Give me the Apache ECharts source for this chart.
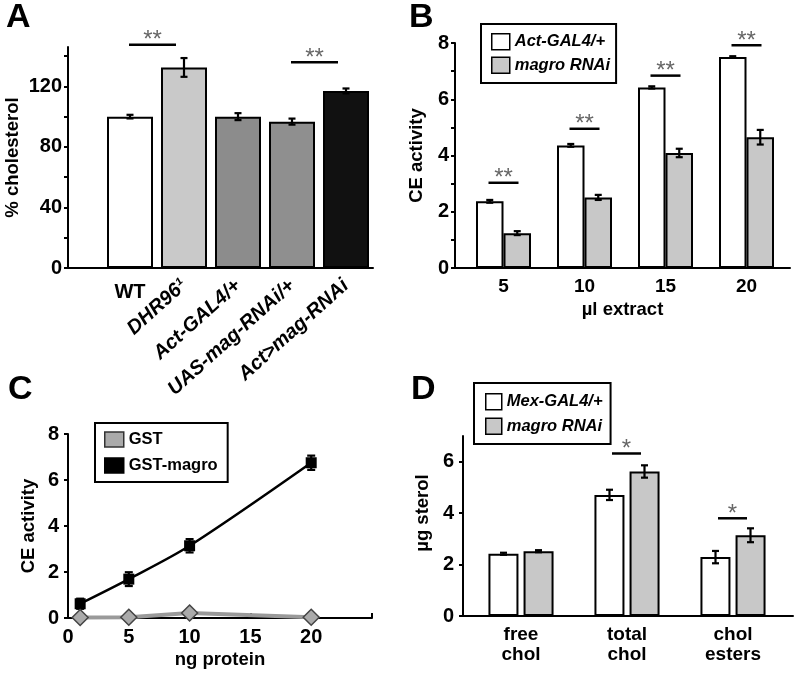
<!DOCTYPE html>
<html><head><meta charset="utf-8">
<script src="https://cdn.jsdelivr.net/npm/echarts@6/dist/echarts.min.js"></script>
<style>html,body{margin:0;padding:0;background:#fff}#chart{width:800px;height:675px}</style>
</head><body><div id="chart"></div>
<script>
// ---------- Panel A ----------
const aCategories = ['WT', 'DHR96¹', 'Act-GAL4/+', 'UAS-mag-RNAi/+', 'Act>mag-RNAi'];
const aValues = [100, 132.5, 100, 96.7, 117];
const aErrors = [1.2, 6.2, 2.3, 2, 1.6];
const aYLabels = [0, 40, 80, 120];
const aYTicks = [0, 20, 40, 60, 80, 100, 120, 140];
const aSigIndex = [0, 3];
const aSigY = [147.5, 136];
const aSigText = ['**', '**'];
// ---------- Panel B ----------
const bCategories = ['5', '10', '15', '20'];
const bControl = [2.37, 4.36, 6.42, 7.50];
const bControlErr = [0.05, 0.05, 0.04, 0.03];
const bRNAi = [1.24, 2.51, 4.09, 4.65];
const bRNAiErr = [0.07, 0.09, 0.15, 0.26];
const bYLabels = [0, 2, 4, 6, 8];
const bYTicks = [0, 1, 2, 3, 4, 5, 6, 7, 8];
const bSigIndex = [0, 1, 2, 3];
const bSigY = [3.03, 4.95, 6.84, 7.92];
const bSigText = ['**', '**', '**', '**'];
// ---------- Panel C ----------
const cX = [1, 5, 10, 20];
const cGSTmagro = [0.62, 1.69, 3.14, 6.75];
const cGSTmagroErr = [0.22, 0.3, 0.29, 0.31];
const cGST = [0.02, 0.03, 0.22, 0.03];
const cXLabels = [0, 5, 10, 15, 20];
const cYLabels = [0, 2, 4, 6, 8];
// ---------- Panel D ----------
const dCategories = ['free\nchol', 'total\nchol', 'chol\nesters'];
const dControl = [2.42, 4.71, 2.29];
const dControlErr = [0.04, 0.2, 0.24];
const dRNAi = [2.52, 5.62, 3.14];
const dRNAiErr = [0.04, 0.24, 0.27];
const dYLabels = [0, 2, 4, 6];
const dSigIndex = [1, 2];
const dSigY = [6.32, 3.8];
const dSigText = ['*', '*'];

// ---------- styles ----------
const FONT = '"Liberation Sans", Arial, Helvetica, sans-serif';
const aBarColors = ['#ffffff', '#c9c9c9', '#8c8c8c', '#8f8f8f', '#111111'];
const WHITE = '#ffffff', GRAY = '#c8c8c8';
const axisLine = { show: true, lineStyle: { color: '#000', width: 2 } };
const tickLab = { fontFamily: FONT, fontSize: 20, fontWeight: 'bold', color: '#000' };
const nameStyle = { fontFamily: FONT, fontSize: 18.5, fontWeight: 'bold', color: '#000' };
const letterStyle = { fontFamily: FONT, fontSize: 34, fontWeight: 'bold', color: '#000' };

function frameX(grid, name, gap) {
  return { type: 'value', gridIndex: grid, min: 0, max: 1, axisLine,
    axisTick: { show: false }, axisLabel: { show: false }, splitLine: { show: false },
    name: name || '', nameLocation: 'middle', nameGap: gap || 30, nameTextStyle: nameStyle };
}
function hiddenY(grid, max) {
  return { type: 'value', gridIndex: grid, min: 0, max, show: false, splitLine: { show: false } };
}
function errSeries(xi, yi, xs, vals, errs, dx, cap) {
  return {
    type: 'custom', xAxisIndex: xi, yAxisIndex: yi, silent: true, z: 10, clip: false,
    encode: { x: 0, y: 1 },
    data: vals.map((v, i) => [xs[i], v, errs[i]]),
    renderItem(params, api) {
      const x0 = api.value(0), v = api.value(1), e = api.value(2);
      const t = api.coord([x0, v + e]), b = api.coord([x0, v - e]);
      const x = t[0] + dx;
      const st = { stroke: '#000', lineWidth: 2.2 };
      return { type: 'group', children: [
        { type: 'line', shape: { x1: x, y1: t[1], x2: x, y2: b[1] }, style: st },
        { type: 'line', shape: { x1: x - cap, y1: t[1], x2: x + cap, y2: t[1] }, style: st },
        { type: 'line', shape: { x1: x - cap, y1: b[1], x2: x + cap, y2: b[1] }, style: st }
      ] };
    }
  };
}
function sigSeries(xi, yi, idx, ys, texts, dx1, dx2) {
  return {
    type: 'custom', xAxisIndex: xi, yAxisIndex: yi, silent: true, z: 10, clip: false,
    encode: { x: 0, y: 1 },
    data: idx.map((k, j) => [k, ys[j], j]),
    renderItem(params, api) {
      const p = api.coord([api.value(0), api.value(1)]);
      const j = api.value(2);
      const x1 = p[0] + dx1, x2 = p[0] + dx2, y = p[1];
      return { type: 'group', children: [
        { type: 'line', shape: { x1, y1: y, x2, y2: y }, style: { stroke: '#000', lineWidth: 2.5 } },
        { type: 'text', style: { text: texts[j], x: (x1 + x2) / 2, y: y - 4, align: 'center',
          verticalAlign: 'middle', fill: '#666', font: '24px ' + FONT } }
      ] };
    }
  };
}
const legendText = { fontFamily: FONT, fontSize: 16.5, fontWeight: 'bold', fontStyle: 'italic', color: '#000' };

const option = {
  animation: false,
  backgroundColor: '#fff',
  title: [
    { text: 'A', left: 6, top: 1, padding: 0, textStyle: letterStyle },
    { text: 'B', left: 409, top: 1, padding: 0, textStyle: letterStyle },
    { text: 'C', left: 8, top: 373, padding: 0, textStyle: letterStyle },
    { text: 'D', left: 411, top: 373, padding: 0, textStyle: letterStyle }
  ],
  grid: [
    { left: 68, top: 47, width: 305, height: 221 },   // 0 A frame
    { left: 103, top: 47, width: 270, height: 221 },  // 1 A bars
    { left: 103, top: 47, width: 270, height: 221 },  // 2 A WT label
    { left: 455, top: 43, width: 335, height: 225 },  // 3 B frame
    { left: 463, top: 43, width: 324, height: 225 },  // 4 B bars
    { left: 68, top: 434, width: 304, height: 184 },  // 5 C
    { left: 463, top: 436, width: 330, height: 180 }, // 6 D frame
    { left: 468, top: 436, width: 318, height: 180 }  // 7 D bars
  ],
  legend: [
    { left: 481, top: 24, orient: 'vertical', selectedMode: false, icon: 'rect',
      data: ['Act-GAL4/+', 'magro RNAi'], borderColor: '#000', borderWidth: 2,
      padding: [9, 6, 9, 10], itemWidth: 18, itemHeight: 16, itemGap: 6, textStyle: legendText,
      itemStyle: { borderColor: '#000', borderWidth: 1.5 } },
    { left: 95, top: 423, orient: 'vertical', selectedMode: false, icon: 'rect',
      data: [{ name: 'GST', itemStyle: { color: '#aaaaaa', borderColor: '#333', borderWidth: 1.5 } },
             { name: 'GST-magro', itemStyle: { color: '#000', borderColor: '#000', borderWidth: 1.5 } }],
      borderColor: '#000', borderWidth: 2, padding: [8, 10, 8, 9], itemWidth: 19, itemHeight: 15, itemGap: 9,
      textStyle: { fontFamily: FONT, fontSize: 16.5, fontWeight: 'bold', color: '#000' } },
    { left: 474, top: 383, orient: 'vertical', selectedMode: false, icon: 'rect',
      data: ['Mex-GAL4/+', 'magro RNAi'], borderColor: '#000', borderWidth: 2,
      padding: [10, 8, 9, 11], itemWidth: 16, itemHeight: 16, itemGap: 7, textStyle: legendText,
      itemStyle: { borderColor: '#000', borderWidth: 1.5 } }
  ],
  xAxis: [
    frameX(0),
    { type: 'category', gridIndex: 1, data: aCategories, axisLine: { show: false }, axisTick: { show: false },
      axisLabel: { interval: 0, rotate: 42, margin: 15, fontFamily: FONT, fontSize: 20, fontWeight: 'bold',
        fontStyle: 'italic', color: '#000', formatter: (v, i) => (i === 0 ? '' : v) } },
    { type: 'category', gridIndex: 2, data: aCategories, axisLine: { show: false }, axisTick: { show: false },
      axisLabel: { interval: 0, rotate: 0, margin: 14, fontFamily: FONT, fontSize: 20, fontWeight: 'bold',
        color: '#000', formatter: (v, i) => (i === 0 ? v : '') } },
    frameX(3, 'µl extract', 32),
    { type: 'category', gridIndex: 4, data: bCategories, axisLine: { show: false }, axisTick: { show: false },
      axisLabel: { interval: 0, margin: 9, ...tickLab, fontSize: 19 } },
    { type: 'value', gridIndex: 5, min: 0, max: 25, interval: 5, axisLine, splitLine: { show: false },
      axisTick: { inside: true, length: 5, lineStyle: { color: '#000', width: 2 } },
      axisLabel: { customValues: cXLabels, margin: 9, ...tickLab },
      name: 'ng protein', nameLocation: 'middle', nameGap: 32, nameTextStyle: nameStyle },
    frameX(6),
    { type: 'category', gridIndex: 7, data: dCategories, axisLine: { show: false }, axisTick: { show: false },
      axisLabel: { interval: 0, margin: 9, ...tickLab, fontSize: 19, lineHeight: 20 } }
  ],
  yAxis: [
    { type: 'value', gridIndex: 0, min: 0, max: 146, axisLine, splitLine: { show: false },
      axisTick: { customValues: aYTicks, length: 4, lineStyle: { color: '#000', width: 2 } },
      axisLabel: { customValues: aYLabels, margin: 6, ...tickLab },
      name: '% cholesterol', nameLocation: 'middle', nameGap: 46, nameTextStyle: nameStyle },
    hiddenY(1, 146),
    hiddenY(2, 146),
    { type: 'value', gridIndex: 3, min: 0, max: 8, axisLine, splitLine: { show: false },
      axisTick: { customValues: bYTicks, length: 4, lineStyle: { color: '#000', width: 2 } },
      axisLabel: { customValues: bYLabels, margin: 6, ...tickLab },
      name: 'CE activity', nameLocation: 'middle', nameGap: 29, nameTextStyle: nameStyle },
    hiddenY(4, 8),
    { type: 'value', gridIndex: 5, min: 0, max: 8, axisLine, splitLine: { show: false },
      axisTick: { customValues: cYLabels, length: 4, lineStyle: { color: '#000', width: 2 } },
      axisLabel: { customValues: cYLabels, margin: 9, ...tickLab },
      name: 'CE activity', nameLocation: 'middle', nameGap: 30, nameTextStyle: nameStyle },
    { type: 'value', gridIndex: 6, min: 0, max: 7, axisLine, splitLine: { show: false },
      axisTick: { customValues: dYLabels, length: 4, lineStyle: { color: '#000', width: 2 } },
      axisLabel: { customValues: dYLabels, margin: 9, ...tickLab },
      name: 'µg sterol', nameLocation: 'middle', nameGap: 31, nameTextStyle: { ...nameStyle, padding: [0, 0, 0, 26] } },
    hiddenY(7, 7)
  ],
  series: [
    // A
    { type: 'bar', name: 'A', xAxisIndex: 1, yAxisIndex: 1, barWidth: 46, silent: true,
      data: aValues.map((v, i) => ({ value: v, itemStyle: { color: aBarColors[i] } })),
      itemStyle: { borderColor: '#000', borderWidth: 2 } },
    errSeries(1, 1, aValues.map((v, i) => i), aValues, aErrors, 0, 3.5),
    sigSeries(1, 1, aSigIndex, aSigY, aSigText, -1, 46),
    // B
    { type: 'bar', name: 'Act-GAL4/+', xAxisIndex: 4, yAxisIndex: 4, barWidth: 27.5, barGap: '0%', silent: true,
      data: bControl, itemStyle: { color: WHITE, borderColor: '#000', borderWidth: 2 } },
    { type: 'bar', name: 'magro RNAi', xAxisIndex: 4, yAxisIndex: 4, barWidth: 27.5, barGap: '0%', silent: true,
      data: bRNAi, itemStyle: { color: GRAY, borderColor: '#000', borderWidth: 2 } },
    errSeries(4, 4, bControl.map((v, i) => i), bControl, bControlErr, -13.75, 3.5),
    errSeries(4, 4, bRNAi.map((v, i) => i), bRNAi, bRNAiErr, 13.75, 3.5),
    sigSeries(4, 4, bSigIndex, bSigY, bSigText, -15, 15),
    // C
    errSeries(5, 5, cX, cGSTmagro, cGSTmagroErr, 0, 4),
    { type: 'line', name: 'GST-magro', xAxisIndex: 5, yAxisIndex: 5, smooth: 0.3, silent: true,
      data: cX.map((x, i) => [x, cGSTmagro[i]]), symbol: 'rect', symbolSize: 11,
      lineStyle: { color: '#000', width: 2.5 }, itemStyle: { color: '#000' }, z: 3 },
    { type: 'line', name: 'GST', xAxisIndex: 5, yAxisIndex: 5, silent: true,
      data: cX.map((x, i) => [x, cGST[i]]), symbol: 'diamond', symbolSize: 16,
      lineStyle: { color: '#9a9a9a', width: 4 }, itemStyle: { color: '#aaaaaa', borderColor: '#444', borderWidth: 1.5 }, z: 12 },
    // D
    { type: 'bar', name: 'Mex-GAL4/+', xAxisIndex: 7, yAxisIndex: 7, barWidth: 30, barGap: '17%', silent: true,
      data: dControl, itemStyle: { color: WHITE, borderColor: '#000', borderWidth: 2 } },
    { type: 'bar', name: 'magro RNAi', xAxisIndex: 7, yAxisIndex: 7, barWidth: 30, barGap: '17%', silent: true,
      data: dRNAi, itemStyle: { color: GRAY, borderColor: '#000', borderWidth: 2 } },
    errSeries(7, 7, dControl.map((v, i) => i), dControl, dControlErr, -17.5, 3.5),
    errSeries(7, 7, dRNAi.map((v, i) => i), dRNAi, dRNAiErr, 17.5, 3.5),
    sigSeries(7, 7, dSigIndex, dSigY, dSigText, -15, 14)
  ]
};
const chart = echarts.init(document.getElementById('chart'), null, { renderer: 'canvas' });
chart.setOption(option);
</script>
</body></html>
